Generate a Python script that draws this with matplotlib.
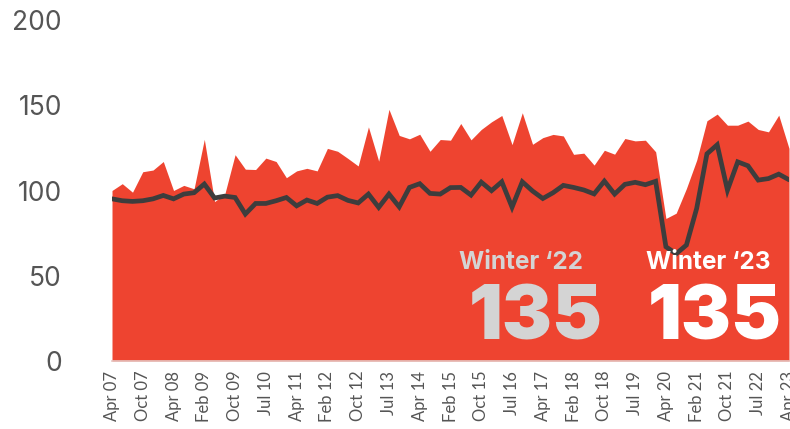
import matplotlib
matplotlib.use("Agg")
import matplotlib.pyplot as plt

plt.rcParams['font.family'] = ['Lato', 'DejaVu Sans']

tick_labels = ['Apr 07', 'Oct 07', 'Apr 08', 'Feb 09', 'Oct 09', 'Jul 10', 'Apr 11',
               'Feb 12', 'Oct 12', 'Jul 13', 'Apr 14', 'Feb 15', 'Oct 15', 'Jul 16',
               'Apr 17', 'Feb 18', 'Oct 18', 'Jul 19', 'Apr 20', 'Feb 21', 'Oct 21',
               'Jul 22', 'Apr 23']

# red area series
area_vals = [100, 104, 99, 111, 112, 117, 100, 103, 101, 130,
             93.5, 98, 121, 112.5, 112.3, 119, 117, 107.5, 111.5, 113,
             111.5, 124.7, 123, 118.8, 114.4, 137.3, 117.2, 147.6, 132.3, 130.3,
             133, 123, 129.9, 129.5, 139.3, 129.7, 135.8, 140.3, 144, 126.9,
             145.6, 127.1, 131, 132.9, 132, 121.2, 121.9, 114.9, 123.6, 121.3,
             130.5, 129.1, 129.5, 122.7, 83.6, 86.7, 101.2, 117.8, 140.9, 144.8,
             138.3, 138.3, 140.7, 135.8, 134.4, 144.2, 124.7]

# dark line series
line_vals = [95.1, 94, 93.6, 94, 95.1, 97.1, 95.1, 97.9, 98.7, 103.8,
             95.6, 96.7, 95.9, 86.2, 92.4, 92.4, 94, 95.9, 91, 94.4,
             92.4, 96.1, 97, 94.2, 92.7, 97.9, 90.1, 97.9, 90.4, 101.8,
             104, 98.3, 97.9, 101.7, 101.8, 97.3, 104.9, 99.9, 105.1, 90.2,
             105.1, 99.7, 95.3, 98.7, 103, 101.8, 100.3, 98, 105.5, 97.9,
             103.6, 104.8, 103.4, 105.4, 67, 62.9, 68, 89.5, 121.5, 126.8,
             100.2, 116.8, 114.5, 106.1, 107, 109.6, 106.3]

x = list(range(len(area_vals)))

fig = plt.figure(figsize=(7.9, 4.29), dpi=100)
ax = fig.add_axes([112 / 790, (429 - 361) / 429, 677 / 790, 341 / 429])

ax.fill_between(x, 0, area_vals, color='#ee4430', linewidth=0)
ax.plot(x, line_vals, color='#3d3d3d', linewidth=3.4, solid_capstyle='round',
        solid_joinstyle='miter')

ax.set_xlim(0, len(x) - 1)
ax.set_ylim(0, 200)
ax.set_yticks([0, 50, 100, 150, 200])
ax.set_xticks(x[::3])
ax.set_xticklabels(tick_labels, rotation=90)

for s in ['top', 'right', 'left']:
    ax.spines[s].set_visible(False)
ax.spines['bottom'].set_color('#e6c4c0')
ax.spines['bottom'].set_linewidth(1.2)

ax.tick_params(axis='y', length=0, pad=36, labelsize=19, labelcolor='#555555')
ax.tick_params(axis='x', length=0, pad=7, labelsize=12, labelcolor='#555555')
for t in ax.get_yticklabels():
    t.set_family(['Inter', 'DejaVu Sans'])

big = ['Inter', 'DejaVu Sans']
ax.text(39.9, 58, 'Winter \u201822', ha='center', va='center', fontsize=17.5,
        fontweight='bold', color='#d4d4d4', family=big)
ax.text(41.3, 24, '135', ha='center', va='center', fontsize=54,
        fontweight='black', color='#d4d4d4', family=big)
ax.text(58.1, 58, 'Winter \u201823', ha='center', va='center', fontsize=17.5,
        fontweight='bold', color='white', family=big)
ax.text(58.8, 24, '135', ha='center', va='center', fontsize=54,
        fontweight='black', color='white', family=big)

fig.savefig('out.png', dpi=100)
